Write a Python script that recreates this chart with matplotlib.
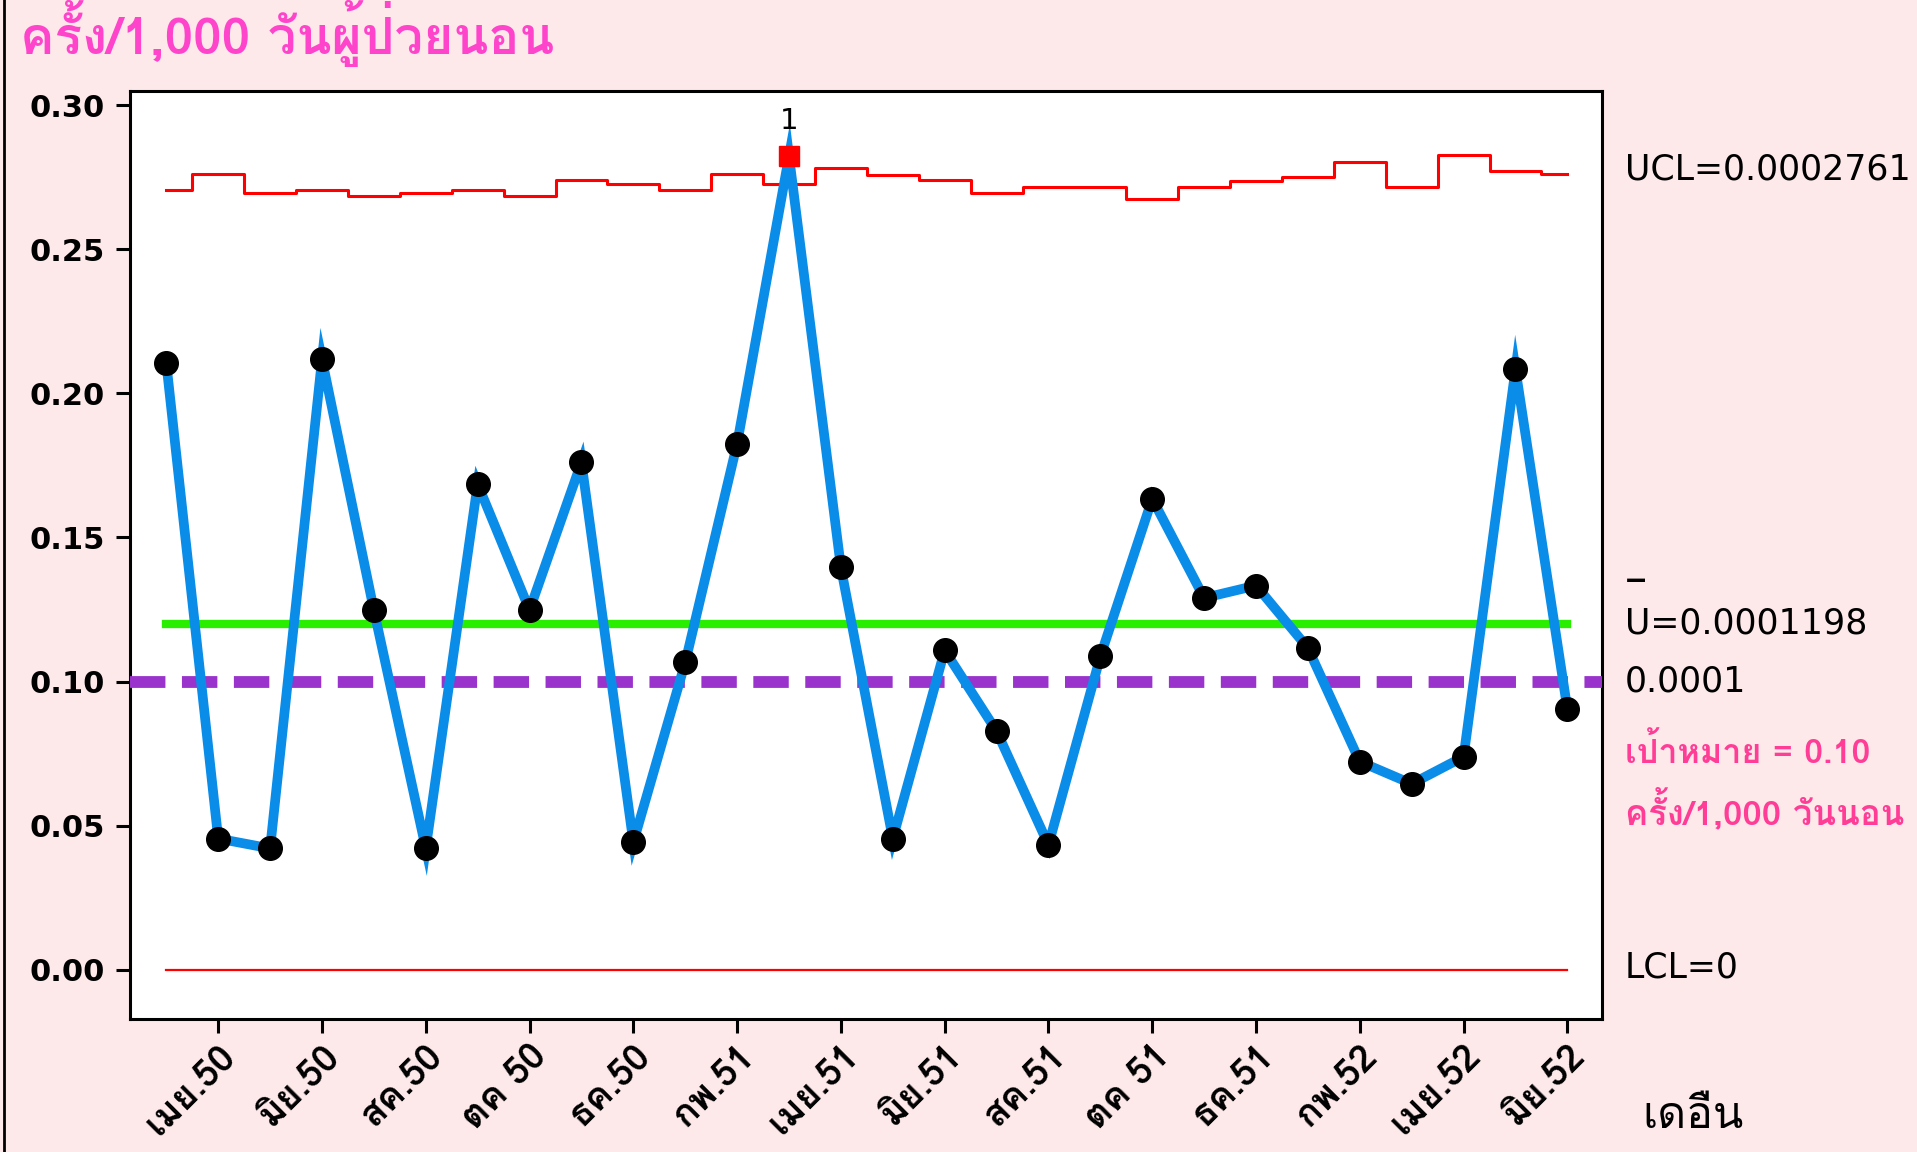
import matplotlib
matplotlib.use("Agg")
from matplotlib import pyplot as plt
from matplotlib import font_manager
from matplotlib import patheffects as pe
from matplotlib.ft2font import FT2Font
import numpy as np

# ข้อมูลรายเดือน มีค.50 - มิย.52
months = np.arange(1, 29)
rate = [0.2105, 0.0455, 0.0421, 0.2118, 0.1248, 0.0421, 0.1685, 0.1248, 0.1761, 0.0442,
        0.1066, 0.1825, 0.2823, 0.1396, 0.0455, 0.1108, 0.0828, 0.0433, 0.1087, 0.1634,
        0.1290, 0.1333, 0.1116, 0.0722, 0.0645, 0.0739, 0.2084, 0.0904]
ucl = [0.2705, 0.2762, 0.2696, 0.2705, 0.2685, 0.2696, 0.2705, 0.2685, 0.2739, 0.2728,
       0.2707, 0.2760, 0.2726, 0.2781, 0.2758, 0.2740, 0.2696, 0.2717, 0.2717, 0.2673,
       0.2717, 0.2738, 0.2749, 0.2801, 0.2717, 0.2826, 0.2770, 0.2760]
center = 0.1198
target = 0.10
lcl = 0.0
out_idx = [12]          # จุดที่เกิน UCL
tick_pos = [2, 4, 6, 8, 10, 12, 14, 16, 18, 20, 22, 24, 26, 28]
tick_lab = ['เมย.50', 'มิย.50', 'สค.50', 'ตค 50', 'ธค.50', 'กพ.51', 'เมย.51',
            'มิย.51', 'สค.51', 'ตค 51', 'ธค.51', 'กพ.52', 'เมย.52', 'มิย.52']


def thai_fonts():
    # หาฟอนต์ที่มีอักษรไทย (ชื่อ, มีตัวหนาหรือไม่)
    found = {}
    for f in font_manager.fontManager.ttflist:
        try:
            cmap = FT2Font(f.fname).get_charmap()
        except Exception:
            continue
        if 0x0E04 in cmap and 0x0E31 in cmap and 0x0E49 in cmap:
            w = f.weight if isinstance(f.weight, int) else 400
            found[f.name] = max(found.get(f.name, 0), w)
    if not found:
        return 'DejaVu Sans', False
    bold = [n for n, w in found.items() if w >= 600]
    if bold:
        return bold[0], True
    return list(found)[0], False


th, has_bold = thai_fonts()
fam = [th, 'DejaVu Sans']


def fat(color, w=1.6):
    # ถ้าไม่มีตัวหนา ให้หนาขึ้นด้วยเส้นขอบ
    if has_bold:
        return []
    return [pe.withStroke(linewidth=w, foreground=color)]


bg = '#fde9ea'
fig = plt.figure(figsize=(19.17, 11.52), dpi=100, facecolor=bg)
ax = fig.add_axes([130 / 1917, 133 / 1152, 1472 / 1917, 928 / 1152])
ax.set_facecolor('white')

ax.step(months, ucl, where='mid', color='red', lw=2.2, zorder=2)
ax.plot([months[0], months[-1]], [lcl, lcl], color='red', lw=1.6, zorder=2)
ax.plot([months[0], months[-1]], [center, center], color='#2aee00', lw=6, zorder=2)
ax.axhline(target, color='#9933cc', lw=8.5, ls=(0, (3.0, 1.4)), zorder=3)
ax.plot(months, rate, color='#0a8ce9', lw=7, solid_joinstyle='miter', zorder=4)
ok = [i for i in range(len(rate)) if i not in out_idx]
ax.plot(months[ok], np.array(rate)[ok], 'o', color='black', ms=17, zorder=5)
ax.plot(months[out_idx], np.array(rate)[out_idx], 's', color='red', ms=15, zorder=5)
for i in out_idx:
    ax.text(months[i], rate[i] + 0.0072, '1', ha='center', va='bottom', fontsize=21,
            family='DejaVu Sans', zorder=6)

ax.set_xlim(0.30, 28.667)
ax.set_ylim(-0.0171, 0.3049)
ax.set_yticks(np.arange(0, 0.31, 0.05))
ax.set_yticklabels(['%.2f' % v for v in np.arange(0, 0.31, 0.05)],
                   fontsize=22, fontweight='bold', family='DejaVu Sans')
ax.set_xticks(tick_pos)
ax.set_xticklabels(tick_lab, rotation=45, ha='right', rotation_mode='anchor',
                   fontsize=27, fontweight='bold', family=fam)
for t in ax.get_xticklabels():
    t.set_path_effects(fat('black', 1.8))
ax.tick_params(axis='both', direction='out', length=10, width=2.2, pad=8)
ax.tick_params(axis='x', pad=4)
for s in ax.spines.values():
    s.set_linewidth(2.2)

# ข้อความด้านขวา
tx = 1625 / 1917
def ytxt(px):
    return 1 - px / 1152

fig.text(tx, ytxt(170), 'UCL=0.0002761', fontsize=25, family='DejaVu Sans', va='center')
fig.text(tx, ytxt(581), '–', fontsize=32, family='DejaVu Sans', va='center')
fig.text(tx, ytxt(623), 'U=0.0001198', fontsize=25, family='DejaVu Sans', va='center')
fig.text(tx, ytxt(681), '0.0001', fontsize=25, family='DejaVu Sans', va='center')
pink = '#ff3c96'
fig.text(tx, ytxt(751), 'เป้าหมาย = 0.10', fontsize=24.5, fontweight='bold', color=pink,
         family=fam, va='center', path_effects=fat(pink))
fig.text(tx, ytxt(809), 'ครั้ง/1,000 วันนอน', fontsize=25, fontweight='bold', color=pink,
         family=fam, va='center', path_effects=fat(pink))
fig.text(tx, ytxt(967), 'LCL=0', fontsize=25, family='DejaVu Sans', va='center')

mag = '#ff44cc'
fig.text(20 / 1917, ytxt(33), 'ครั้ง/1,000 วันผู้ป่วยนอน', fontsize=37, fontweight='bold',
         color=mag, family=fam, va='center', path_effects=fat(mag, 2.2))
fig.text(1693 / 1917, ytxt(1117), 'เดอืน', fontsize=32, family=fam, ha='center', va='center',
         path_effects=fat('black', 1.0))

# เส้นขอบซ้ายของรูป
fig.add_artist(plt.Line2D([4 / 1917, 4 / 1917], [0, 1], color='black', lw=2,
                          transform=fig.transFigure))

fig.savefig('out.png', dpi=100, facecolor=bg)
